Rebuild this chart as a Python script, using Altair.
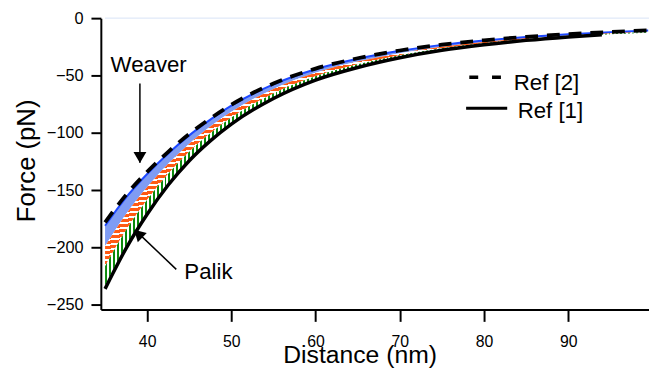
import altair as alt
import pandas as pd

# ---------------- data ----------------
distance = [35, 37.5, 40, 42.5, 45, 47.5, 50, 55, 60, 65, 70, 75, 80, 85, 90, 95, 99.5]
ref2_dashed = [-178, -154, -134, -116.5, -101, -87.5, -75.5, -57, -44, -35, -28.2, -23.1, -19.3, -16.3, -14, -12.1, -10.7]
weaver_top = [-181, -156.3, -135.9, -118, -102.2, -88.5, -76.3, -57.7, -44.5, -35.4, -28.5, -23.3, -19.5, -16.5, -14.1, -12.2, -10.8]
weaver_bottom = [-198.9, -170.8, -147.3, -127, -109.4, -94.5, -81.6, -61.7, -47.6, -37.9, -30.5, -24.9, -20.7, -17.4, -14.9, -12.8, -11.5]
orange_bottom = [-216.3, -184.8, -158.4, -135.6, -116.4, -100.4, -86.7, -65.6, -50.6, -40.3, -32.4, -26.3, -21.9, -18.3, -15.6, -13.4, -12.1]
palik_bottom = [-233.1, -198.4, -169.2, -144, -123.1, -106, -91.6, -69.4, -53.5, -42.6, -34.2, -27.8, -23, -19.2, -16.3, -14, -12.7]

ref1_distance = [35, 37.5, 40, 42.5, 45, 47.5, 50, 55, 60, 65, 70, 75, 80, 85, 90, 94]
ref1_solid = [-236, -200.7, -171, -145.5, -124.3, -107, -92.4, -70, -54, -43, -34.5, -28, -23.2, -19.4, -16.4, -14.4]

x_ticks = [40, 50, 60, 70, 80, 90]
y_ticks = [0, -50, -100, -150, -200, -250]

ann_text = ["Weaver", "Palik"]
ann_x = [35.66, 44.42]
ann_y = [-46.6, -227.6]

arrow_x = [39.14, 43.46]
arrow_y = [-56.9, -219.0]
arrow_x2 = [39.14, 38.6]
arrow_y2 = [-126.0, -185.0]
head_x = [39.14, 39.1]
head_y = [-121.5, -189.0]
head_shape = ["triangle-down", "triangle"]
head_angle = [0, 314]

leg_label = ["Ref [2]", "Ref [1]"]
leg_x1 = [78.26, 77.88]
leg_x2 = [82.02, 82.76]
leg_y = [-51.5, -78.5]
leg_tx = [83.54, 84.0]
leg_ty = [-62.5, -87.0]

FONT = "Liberation Sans"

bands = pd.DataFrame({
    "d": distance, "ref2": ref2_dashed, "wt": weaver_top, "wb": weaver_bottom,
    "ob": orange_bottom, "pb": palik_bottom,
})
ref1 = pd.DataFrame({"d": ref1_distance, "f": ref1_solid})

xs = alt.Scale(domain=[34.5, 99.6], nice=False, zero=False)
ys = alt.Scale(domain=[-254, 0], nice=False, zero=False)

x_axis = alt.Axis(values=x_ticks, title="Distance (nm)", tickSize=12, labelPadding=12,
                  labelFontSize=16, titleFontSize=25, titleX=262, titleY=54,
                  titleAlign="center", titleBaseline="alphabetic", labelFlush=False)
y_axis = alt.Axis(values=y_ticks, title="Force (pN)", tickSize=10, labelPadding=8,
                  labelFontSize=16.5, titleFontSize=26, titleX=-67, titleY=144,
                  titleAngle=270, titleAlign="center", titleBaseline="alphabetic")


def X(field="d"):
    return alt.X(f"{field}:Q", scale=xs, axis=x_axis)


def Y(field):
    return alt.Y(f"{field}:Q", scale=ys, axis=y_axis)


def stripes(color, n, x2, y2, frac):
    stops = []
    for i in range(n):
        a = i / n
        b = (i + frac) / n
        c = (i + 1) / n
        stops += [alt.GradientStop(color=color, offset=a), alt.GradientStop(color=color, offset=b),
                  alt.GradientStop(color="#ffffff", offset=b), alt.GradientStop(color="#ffffff", offset=c)]
    return alt.Gradient(gradient="linear", stops=stops, x1=0, y1=0, x2=x2, y2=y2)


base = alt.Chart(bands)

zero_line = alt.Chart(pd.DataFrame({"x1": [35], "x2": [99.6], "y": [0]})).mark_rule(
    color="#d8e3f6", strokeWidth=1).encode(x=X("x1"), x2="x2:Q", y=Y("y"))

blue_area = base.mark_area(color="#7f9cf3", interpolate="monotone").encode(
    x=X(), y=Y("wt"), y2="wb:Q")
orange_area = base.mark_area(fill=stripes("#ff5a14", 50, 0.25, 1, 0.62), interpolate="monotone").encode(
    x=X(), y=Y("wb"), y2="ob:Q")
green_area = base.mark_area(fill=stripes("#0b8a0b", 137, 1, 0, 0.5), interpolate="monotone").encode(
    x=X(), y=Y("ob"), y2="pb:Q")
blue_line = base.mark_line(color="#1d48ff", strokeWidth=2, interpolate="monotone").encode(
    x=X(), y=Y("wt"))
ref1_line = alt.Chart(ref1).mark_line(color="black", strokeWidth=3.5, interpolate="monotone").encode(
    x=X(), y=Y("f"))
ref2_line = base.mark_line(color="black", strokeWidth=3.8, strokeDash=[13, 9], interpolate="monotone").encode(
    x=X(), y=Y("ref2"))

ann = pd.DataFrame({"t": ann_text, "x": ann_x, "y": ann_y})
ann_layer = alt.Chart(ann).mark_text(font=FONT, fontSize=22.5, align="left", baseline="alphabetic",
                                     color="black").encode(x=X("x"), y=Y("y"), text="t:N")

arrows = pd.DataFrame({"x": arrow_x, "y": arrow_y, "x2": arrow_x2, "y2": arrow_y2})
arrow_layer = alt.Chart(arrows).mark_rule(color="black", strokeWidth=1.5).encode(
    x=X("x"), y=Y("y"), x2="x2:Q", y2="y2:Q")

heads = pd.DataFrame({"x": head_x, "y": head_y, "s": head_shape, "a": head_angle})
head_layer = alt.Chart(heads).mark_point(filled=True, color="black", opacity=1, size=170).encode(
    x=X("x"), y=Y("y"),
    shape=alt.Shape("s:N", scale=None, legend=None),
    angle=alt.Angle("a:Q", scale=None))

leg = pd.DataFrame({"t": leg_label, "x1": leg_x1, "x2": leg_x2, "y": leg_y, "tx": leg_tx, "ty": leg_ty})
leg_dash = alt.Chart(leg.iloc[[0]]).mark_rule(color="black", strokeWidth=3.5, strokeDash=[9, 14]).encode(
    x=X("x1"), x2="x2:Q", y=Y("y"))
leg_solid = alt.Chart(leg.iloc[[1]]).mark_rule(color="black", strokeWidth=3).encode(
    x=X("x1"), x2="x2:Q", y=Y("y"))
leg_text = alt.Chart(leg).mark_text(font=FONT, fontSize=22.5, align="left", baseline="alphabetic",
                                    color="black").encode(x=X("tx"), y=Y("ty"), text="t:N")

chart = alt.layer(
    zero_line, blue_area, orange_area, green_area, blue_line, ref1_line, ref2_line,
    arrow_layer, head_layer, ann_layer, leg_dash, leg_solid, leg_text
).properties(
    width=555, height=295,
    padding={"left": 94, "top": 8, "right": 0, "bottom": 60},
    autosize=alt.AutoSizeParams(type="none"),
).configure_view(stroke=None).configure_axis(
    domainColor="black", domainWidth=2, tickColor="black", tickWidth=2, grid=False,
    labelFont=FONT, titleFont=FONT, labelColor="black", titleColor="black",
    titleFontWeight="normal",
)

chart.save("out.html", embed_options={"renderer": "svg", "actions": False})
